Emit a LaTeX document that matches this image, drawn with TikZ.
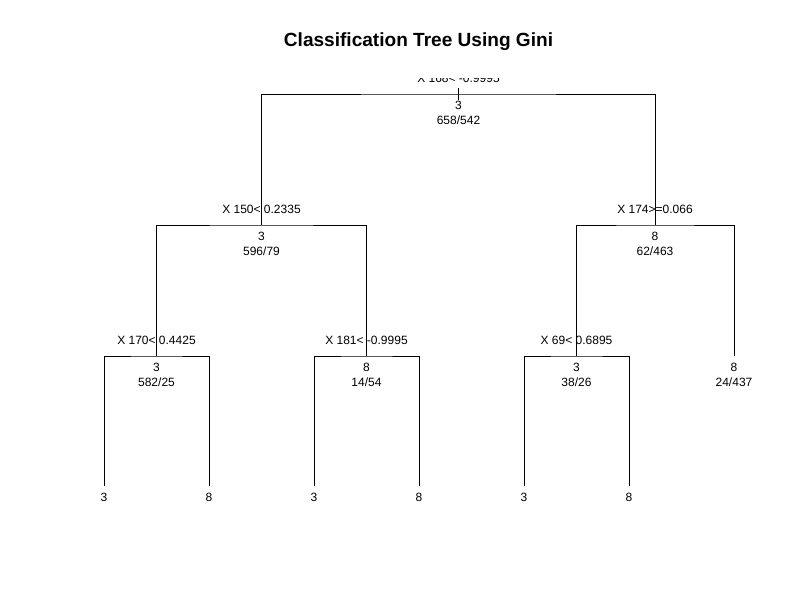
\documentclass[tikz,border=0pt]{standalone}
\usepackage{fontspec}
\setmainfont{Liberation Sans}
\usetikzlibrary{calc}

\tikzset{
	branch/.style={line width=0.6pt},
	splitlab/.style={anchor=base, inner sep=0pt},
	fitlab/.style={anchor=base, inner sep=0pt},
}

\begin{document}
\begin{tikzpicture}[x=0.75pt, y=-0.75pt, font=\fontsize{9}{10}\selectfont]
	% --- 1. SETUP ---
	\useasboundingbox (0,0) rectangle (800,600);
	\def\ya{15}   % class label below node
	\def\yb{30}   % counts below node
	\def\ys{-12}  % split label above node
	
	% Tree nodes (one per split / leaf)
	\coordinate (n0) at (458.5,94);
	\coordinate (n1) at (261.5,225);
	\coordinate (n2) at (655,225);
	\coordinate (n3) at (156.5,356);
	\coordinate (n4) at (366.5,356);
	\coordinate (n5) at (576.5,356);
	\coordinate (n6) at (734,356);
	
	% Bottom leaves
	\coordinate (l1) at (104,486);
	\coordinate (l2) at (209,486);
	\coordinate (l3) at (314,486);
	\coordinate (l4) at (419,486);
	\coordinate (l5) at (524,486);
	\coordinate (l6) at (629,486);
	
	% --- 2. TITLE ---
	\node[font=\bfseries\fontsize{14.3}{16}\selectfont] (title) at (418.5,42) {Classification Tree Using Gini};
	
	% --- 3. BRANCHES ---
	\draw[branch] ($(n0)+(0,-6)$) -- ($(n0)+(0,6)$);
	\draw[branch] (n1) |- (n0) -| (n2);
	\draw[branch] (n3) |- (n1) -| (n4);
	\draw[branch] (n5) |- (n2) -| (n6);
	\draw[branch] (l1) |- (n3) -| (l2);
	\draw[branch] (l3) |- (n4) -| (l4);
	\draw[branch] (l5) |- (n5) -| (l6);
	
	% --- 4. SPLIT LABELS ---
	% root label is cut off at the top of the plot region
	\begin{scope}
		\clip (300,78) rectangle (620,100);
		\node[splitlab] (s0) at ($(n0)+(0,\ys)$) {X 168< -0.9995};
	\end{scope}
	\node[splitlab] (s1) at ($(n1)+(0,\ys)$) {X 150< 0.2335};
	\node[splitlab] (s2) at ($(n2)+(0,\ys)$) {X 174>=0.066};
	\node[splitlab] (s3) at ($(n3)+(0,\ys)$) {X 170< 0.4425};
	\node[splitlab] (s4) at ($(n4)+(0,\ys)$) {X 181< -0.9995};
	\node[splitlab] (s5) at ($(n5)+(0,\ys)$) {X 69< 0.6895};
	
	% --- 5. FITTED CLASS AND COUNTS ---
	\node[fitlab] (c0) at ($(n0)+(0,\ya)$) {3};
	\node[fitlab] (k0) at ($(n0)+(0,\yb)$) {658/542};
	\node[fitlab] (c1) at ($(n1)+(0,\ya)$) {3};
	\node[fitlab] (k1) at ($(n1)+(0,\yb)$) {596/79};
	\node[fitlab] (c2) at ($(n2)+(0,\ya)$) {8};
	\node[fitlab] (k2) at ($(n2)+(0,\yb)$) {62/463};
	\node[fitlab] (c3) at ($(n3)+(0,\ya)$) {3};
	\node[fitlab] (k3) at ($(n3)+(0,\yb)$) {582/25};
	\node[fitlab] (c4) at ($(n4)+(0,\ya)$) {8};
	\node[fitlab] (k4) at ($(n4)+(0,\yb)$) {14/54};
	\node[fitlab] (c5) at ($(n5)+(0,\ya)$) {3};
	\node[fitlab] (k5) at ($(n5)+(0,\yb)$) {38/26};
	\node[fitlab] (c6) at ($(n6)+(0,\ya)$) {8};
	\node[fitlab] (k6) at ($(n6)+(0,\yb)$) {24/437};
	
	% Leaf classes
	\node[fitlab] (c7) at ($(l1)+(0,\ya)$) {3};
	\node[fitlab] (c8) at ($(l2)+(0,\ya)$) {8};
	\node[fitlab] (c9) at ($(l3)+(0,\ya)$) {3};
	\node[fitlab] (c10) at ($(l4)+(0,\ya)$) {8};
	\node[fitlab] (c11) at ($(l5)+(0,\ya)$) {3};
	\node[fitlab] (c12) at ($(l6)+(0,\ya)$) {8};
\end{tikzpicture}
\end{document}
